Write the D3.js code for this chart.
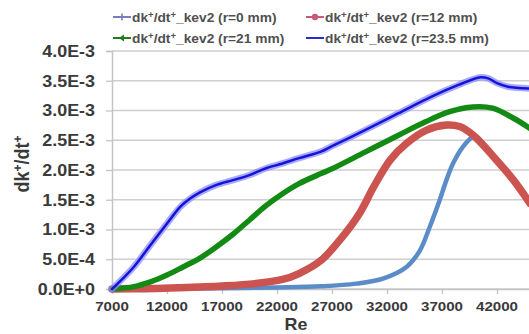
<!DOCTYPE html>
<html>
<head>
<meta charset="utf-8">
<script src="https://cdn.jsdelivr.net/npm/d3@7"></script>
<style>
  html, body { margin: 0; padding: 0; background: #fff; }
  svg { display: block; font-family: "Liberation Sans", Arial, sans-serif; }
</style>
</head>
<body>
<svg id="chart" width="529" height="334"></svg>
<script>
// Reynolds-number tick values and dk+/dt+ tick labels
const xTicks = [7000, 12000, 17000, 22000, 27000, 32000, 37000, 42000];
const yTicks = [0, 0.0005, 0.001, 0.0015, 0.002, 0.0025, 0.003, 0.0035, 0.004];
const yTickLabels = ["0.0E+0", "5.0E-4", "1.0E-3", "1.5E-3", "2.0E-3", "2.5E-3", "3.0E-3", "3.5E-3", "4.0E-3"];

// Series: [Re, dk+/dt+]
const seriesR0 = [
  [7000, 0], [12000, 5e-6], [17000, 1.2e-5], [22000, 2.5e-5], [26000, 4.5e-5],
  [29200, 9e-5], [31700, 1.8e-4], [33800, 3.75e-4], [35000, 6.5e-4], [35900, 1.05e-3],
  [36800, 1.5e-3], [37400, 1.83e-3], [38000, 2.11e-3], [38900, 2.39e-3], [39800, 2.56e-3],
  [40100, 2.57e-3], [41700, 2.22e-3], [43500, 1.83e-3], [45000, 1.44e-3]
];
const seriesR12 = [
  [7000, 0], [10000, 5e-6], [13000, 2e-5], [17000, 5e-5], [20000, 9e-5],
  [22500, 1.6e-4], [24000, 2.6e-4], [26000, 4.8e-4], [27700, 8.2e-4], [29500, 1.27e-3],
  [30800, 1.72e-3], [32300, 2.17e-3], [33800, 2.45e-3], [35600, 2.67e-3], [37400, 2.755e-3],
  [38600, 2.73e-3], [39800, 2.59e-3], [41700, 2.22e-3], [43500, 1.83e-3], [45000, 1.44e-3]
];
const seriesR21 = [
  [7000, 0], [9000, 4e-5], [10500, 1.2e-4], [12000, 2.35e-4], [13500, 3.75e-4],
  [15000, 5.2e-4], [16500, 7.1e-4], [18000, 9.2e-4], [19500, 1.16e-3], [21000, 1.4e-3],
  [22500, 1.6e-3], [24000, 1.77e-3], [26000, 1.94e-3], [27000, 2.02e-3], [30000, 2.3e-3],
  [33000, 2.58e-3], [35500, 2.81e-3], [37700, 2.98e-3], [39800, 3.06e-3], [41600, 3.04e-3],
  [43500, 2.87e-3], [45000, 2.70e-3]
];
const seriesR235 = [
  [7000, 0], [8000, 1.8e-4], [9000, 3.75e-4], [10500, 7.4e-4], [12000, 1.1e-3],
  [13200, 1.38e-3], [14100, 1.52e-3], [15000, 1.625e-3], [16500, 1.75e-3], [18000, 1.83e-3],
  [19500, 1.915e-3], [21000, 2.03e-3], [22500, 2.11e-3], [24000, 2.2e-3], [26000, 2.31e-3],
  [27000, 2.40e-3], [30000, 2.67e-3], [33000, 2.95e-3], [36000, 3.23e-3], [38500, 3.43e-3],
  [40500, 3.56e-3], [41200, 3.54e-3], [42000, 3.46e-3], [43000, 3.40e-3], [45000, 3.37e-3]
];
const seriesNames = [
  "(r=0 mm)", "(r=12 mm)", "(r=21 mm)", "(r=23.5 mm)"
];

const svg = d3.select("#chart");
svg.append("rect").attr("width", 529).attr("height", 334).attr("fill", "#fff");

const x = d3.scaleLinear().domain([7000, 47000]).range([112, 552]);
const y = d3.scaleLinear().domain([0, 0.004]).range([289, 51]);
const stretch = 1.12;

// horizontal gridlines
svg.append("g").selectAll("line").data(yTicks).join("line")
  .attr("x1", 112).attr("x2", 529)
  .attr("y1", d => y(d)).attr("y2", d => y(d))
  .attr("stroke", "#cfcfcf").attr("stroke-width", 1.3);

// y axis
const yAxis = svg.append("g").attr("transform", "translate(112,0)")
  .call(d3.axisLeft(y).tickValues(yTicks).tickSize(6).tickFormat(() => ""));
yAxis.select(".domain").attr("stroke", "#c4c4c4").attr("stroke-width", 1.5);
yAxis.selectAll(".tick line").attr("stroke", "#c4c4c4").attr("stroke-width", 1.3);

// x axis
const xAxis = svg.append("g").attr("transform", "translate(0,289)")
  .call(d3.axisBottom(x).tickValues(xTicks).tickSize(5).tickFormat(() => ""));
xAxis.select(".domain").attr("stroke", "#c4c4c4").attr("stroke-width", 1.3);
xAxis.selectAll(".tick line").attr("stroke", "#c4c4c4").attr("stroke-width", 1.3);

// tick labels (bold, slightly wide)
svg.append("g").selectAll("text").data(yTicks).join("text")
  .attr("transform", d => `translate(95,${y(d)}) scale(${stretch},1)`)
  .attr("dy", "0.36em").attr("text-anchor", "end")
  .attr("font-size", 16).attr("font-weight", "bold").attr("fill", "#3a3a3a")
  .text((d, i) => yTickLabels[i]);

svg.append("g").selectAll("text").data(xTicks).join("text")
  .attr("transform", d => `translate(${x(d)},311) scale(${stretch},1)`)
  .attr("text-anchor", "middle")
  .attr("font-size", 13.5).attr("font-weight", "bold").attr("fill", "#3a3a3a")
  .text(d => d);

// axis titles
svg.append("text")
  .attr("transform", `translate(296,330) scale(${stretch},1)`)
  .attr("text-anchor", "middle")
  .attr("font-size", 16).attr("font-weight", "bold").attr("fill", "#3a3a3a")
  .text("Re");

const yTitle = svg.append("text")
  .attr("transform", "translate(29,164) rotate(-90) scale(1,1.12)")
  .attr("text-anchor", "middle")
  .attr("font-size", 18).attr("font-weight", "bold").attr("fill", "#3a3a3a");
yTitle.append("tspan").text("dk");
yTitle.append("tspan").attr("dy", -6).attr("font-size", 12).text("+");
yTitle.append("tspan").attr("dy", 6).text("/dt");
yTitle.append("tspan").attr("dy", -6).attr("font-size", 12).text("+");

// curves
const line = d3.line().x(d => x(d[0])).y(d => y(d[1])).curve(d3.curveCatmullRom.alpha(0.5));
const plot = svg.append("g");

plot.append("path").datum(seriesR0).attr("d", line)
  .attr("fill", "none").attr("stroke", "#5b8cc8").attr("stroke-width", 4.5)
  .attr("stroke-linejoin", "round").attr("stroke-linecap", "round");

plot.append("path").datum(seriesR12).attr("d", line)
  .attr("fill", "none").attr("stroke", "#cc5450").attr("stroke-width", 7.5)
  .attr("stroke-linejoin", "round").attr("stroke-linecap", "round");

plot.append("path").datum(seriesR21).attr("d", line)
  .attr("fill", "none").attr("stroke", "#138a13").attr("stroke-width", 5.5)
  .attr("stroke-linejoin", "round").attr("stroke-linecap", "round");

plot.append("path").datum(seriesR235).attr("d", line)
  .attr("fill", "none").attr("stroke", "#8c8cff").attr("stroke-width", 6.5)
  .attr("stroke-opacity", 0.75)
  .attr("stroke-linejoin", "round").attr("stroke-linecap", "round");
plot.append("path").datum(seriesR235).attr("d", line)
  .attr("fill", "none").attr("stroke", "#1414d8").attr("stroke-width", 2.5)
  .attr("stroke-linejoin", "round").attr("stroke-linecap", "round");

// legend
const legendItems = [
  { name: seriesNames[0], color: "#7b7bbd", marker: "plus", lx: 113, ly: 17 },
  { name: seriesNames[1], color: "#c85a78", marker: "circle", lx: 306, ly: 17 },
  { name: seriesNames[2], color: "#1b7f1b", marker: "tri", lx: 113, ly: 38 },
  { name: seriesNames[3], color: "#2a2ad0", marker: "none", lx: 306, ly: 38 }
];
const lg = svg.append("g").selectAll("g").data(legendItems).join("g")
  .attr("transform", d => `translate(${d.lx},${d.ly})`);
lg.append("line").attr("x1", 0).attr("x2", 18).attr("y1", 0).attr("y2", 0)
  .attr("stroke", d => d.color).attr("stroke-width", 2);
lg.filter(d => d.marker === "circle").append("circle")
  .attr("cx", 9).attr("r", 3.2).attr("fill", d => d.color);
lg.filter(d => d.marker === "plus").append("path")
  .attr("d", "M9,-3.5V3.5M5.5,0H12.5").attr("stroke", d => d.color).attr("stroke-width", 1.6);
lg.filter(d => d.marker === "tri").append("path")
  .attr("d", "M6,0L11,-3.5L11,3.5Z").attr("fill", d => d.color);

const lt = lg.append("text")
  .attr("transform", `translate(19,4.5) scale(${stretch},1)`)
  .attr("font-size", 12.3).attr("font-weight", "bold").attr("fill", "#505050");
lt.append("tspan").text("dk");
lt.append("tspan").attr("dy", -4).attr("font-size", 8.5).text("+");
lt.append("tspan").attr("dy", 4).text("/dt");
lt.append("tspan").attr("dy", -4).attr("font-size", 8.5).text("+");
lt.append("tspan").attr("dy", 4).text(d => "_kev2 " + d.name);
</script>
</body>
</html>
